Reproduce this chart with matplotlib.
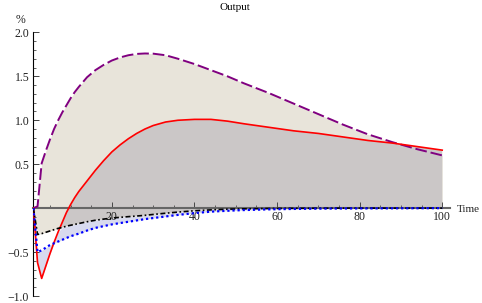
import numpy as np
import matplotlib
matplotlib.use("Agg")
from matplotlib import pyplot as plt
from matplotlib.ticker import MultipleLocator


# time grid (periods) shared by all series
t = [1, 2, 3, 4, 5, 6, 7, 8, 9, 10, 11, 12, 14, 16, 18, 20, 22, 24, 26, 28,
     30, 33, 36, 40, 44, 48, 52, 58, 64, 70, 76, 82, 88, 94, 100]

purple = [0, 0.02, 0.51, 0.65, 0.78, 0.90, 1.00, 1.09, 1.17, 1.25, 1.32, 1.38,
          1.49, 1.57, 1.63, 1.68, 1.715, 1.74, 1.755, 1.76, 1.758, 1.74, 1.70,
          1.64, 1.57, 1.50, 1.42, 1.31, 1.19, 1.07, 0.95, 0.84, 0.75, 0.67,
          0.60]

red = [0, -0.62, -0.80, -0.66, -0.52, -0.39, -0.27, -0.16, -0.05, 0.04, 0.12,
       0.19, 0.31, 0.43, 0.54, 0.64, 0.72, 0.79, 0.85, 0.90, 0.94, 0.98, 1.00,
       1.01, 1.01, 0.99, 0.96, 0.92, 0.88, 0.85, 0.81, 0.77, 0.74, 0.70, 0.66]

black = [0, -0.30, -0.29, -0.275, -0.26, -0.245, -0.23, -0.22, -0.205, -0.195,
         -0.185, -0.175, -0.155, -0.138, -0.125, -0.113, -0.105, -0.097,
         -0.09, -0.082, -0.072, -0.058, -0.045, -0.03, -0.02, -0.012, -0.008,
         -0.004, -0.002, -0.001, 0, 0, 0, 0, 0]

blue = [0, -0.50, -0.48, -0.45, -0.42, -0.40, -0.38, -0.36, -0.34, -0.32,
        -0.305, -0.29, -0.255, -0.225, -0.205, -0.185, -0.17, -0.155, -0.14,
        -0.125, -0.113, -0.095, -0.077, -0.057, -0.04, -0.03, -0.022, -0.014,
        -0.009, -0.006, -0.004, -0.003, -0.002, -0.001, 0]

xticks = [20, 40, 60, 80, 100]
yticks = [-1.0, -0.5, 0.5, 1.0, 1.5, 2.0]
ylabels = ["\u22121.0", "\u22120.5", "0.5", "1.0", "1.5", "2.0"]

plt.rcParams["font.family"] = ["Liberation Serif", "DejaVu Serif"]

fig = plt.figure(figsize=(4.82, 3.03), dpi=100)
ax = fig.add_axes([0.0693, 0.0231, 0.8653, 0.870])
ax.set_axisbelow(False)

T = np.array(t)
P = np.array(purple)
R = np.array(red)
K = np.array(black)
B = np.array(blue)

# shaded bands
ax.fill_between(T, K, P, color="#E8E4DA", lw=0, interpolate=True, zorder=1)
ax.fill_between(T, K, R, where=R >= K, color="#CBC7C7", lw=0, interpolate=True, zorder=1.2)
lo = np.minimum(B, R)
hi = np.maximum(B, np.minimum(R, K))
ax.fill_between(T, lo, hi, color="#D8DAEE", lw=0, zorder=1.2)

# lines
ax.plot(T, P, color="#800080", lw=1.4, dashes=(6, 2), zorder=5)
ax.plot(T, R, color="red", lw=1.2, zorder=5)
ax.plot(T, K, color="black", lw=1.2, dashes=(3, 1.5, 1, 1.5), zorder=5)
ax.plot(T, B, color="blue", lw=1.6, dashes=(1, 1.3), zorder=5)

ax.set_xlim(1, 102)
ax.set_ylim(-1.0, 2.0)

for s in ["top", "right"]:
    ax.spines[s].set_visible(False)
ax.spines["left"].set_position(("data", 1))
ax.spines["bottom"].set_position(("data", 0))
ax.spines["bottom"].set_color("#666666")
ax.spines["bottom"].set_linewidth(1.5)
ax.spines["bottom"].set_zorder(4)
ax.spines["left"].set_linewidth(0.8)
ax.spines["left"].set_bounds(-1.0, 2.0)

ax.set_xticks(xticks)
ax.set_xticklabels([str(v) for v in xticks])
ax.xaxis.set_minor_locator(MultipleLocator(5))
ax.set_yticks(yticks)
ax.set_yticklabels(ylabels)
ax.yaxis.set_minor_locator(MultipleLocator(0.1))

ax.tick_params(axis="x", which="major", direction="in", length=4, width=0.6,
               labelsize=8.5, pad=2, colors="#333333")
ax.tick_params(axis="x", which="minor", direction="in", length=2, width=0.5,
               colors="#333333")
ax.tick_params(axis="y", which="major", direction="in", length=4, width=0.6,
               labelsize=8.5, pad=3, colors="#222222")
ax.tick_params(axis="y", which="minor", direction="in", length=2, width=0.5,
               colors="#222222")
for lab in ax.get_xticklabels() + ax.get_yticklabels():
    lab.set_color("#222222")

fig.text(235 / 482, 1 - 7 / 303, "Output", ha="center", va="center", fontsize=8)
fig.text(21 / 482, 1 - 20 / 303, "%", ha="center", va="center", fontsize=8.5, color="#222222")
fig.text(457 / 482, 1 - 210 / 303, "Time", ha="left", va="center", fontsize=8, color="#222222")

fig.savefig("out.png", dpi=100)
